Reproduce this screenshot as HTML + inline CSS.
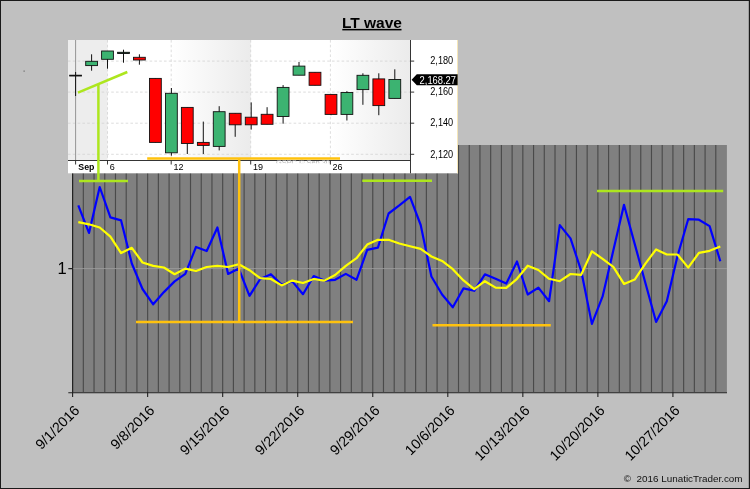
<!DOCTYPE html>
<html><head><meta charset="utf-8"><title>LT wave</title>
<style>
html,body{margin:0;padding:0;background:#C0C0C0;}
body{width:750px;height:489px;overflow:hidden;}
svg{display:block;font-family:"Liberation Sans",Arial,sans-serif;}
</style></head><body>
<svg width="750" height="489" viewBox="0 0 750 489">
<defs>
<linearGradient id="wk" x1="0" x2="1" y1="0" y2="0"><stop offset="0" stop-color="#ffffff"/><stop offset="1" stop-color="#ebebeb"/></linearGradient>
</defs>
<rect x="0" y="0" width="750" height="489" fill="#C0C0C0"/>
<path d="M0 0H750V489H0Z M1 1V487.9H748.8V1Z" fill="#1a1a1a" fill-rule="evenodd"/>
<rect x="23.6" y="70.6" width="1" height="1" fill="#444"/>
<!-- title -->
<text x="371.9" y="27.6" text-anchor="middle" font-size="15.5" font-weight="bold" fill="#000">LT wave</text>
<rect x="342.3" y="28.9" width="59.2" height="1.5" fill="#000"/>
<!-- plot -->
<rect x="72.6" y="145" width="654.3" height="247.5" fill="#808080"/>
<path d="M72.60 145V392 M83.32 145V392 M94.04 145V392 M104.76 145V392 M115.48 145V392 M126.20 145V392 M136.92 145V392 M147.64 145V392 M158.36 145V392 M169.08 145V392 M179.80 145V392 M190.52 145V392 M201.24 145V392 M211.96 145V392 M222.68 145V392 M233.40 145V392 M244.12 145V392 M254.84 145V392 M265.56 145V392 M276.28 145V392 M287.00 145V392 M297.72 145V392 M308.44 145V392 M319.16 145V392 M329.88 145V392 M340.60 145V392 M351.32 145V392 M362.04 145V392 M372.76 145V392 M383.48 145V392 M394.20 145V392 M404.92 145V392 M415.64 145V392 M426.36 145V392 M437.08 145V392 M447.80 145V392 M458.52 145V392 M469.24 145V392 M479.96 145V392 M490.68 145V392 M501.40 145V392 M512.12 145V392 M522.84 145V392 M533.56 145V392 M544.28 145V392 M555.00 145V392 M565.72 145V392 M576.44 145V392 M587.16 145V392 M597.88 145V392 M608.60 145V392 M619.32 145V392 M630.04 145V392 M640.76 145V392 M651.48 145V392 M662.20 145V392 M672.92 145V392 M683.64 145V392 M694.36 145V392 M705.08 145V392 M715.80 145V392" stroke="#4a4a4a" stroke-width="1.15" fill="none"/>
<path d="M72.6 268.6H727" stroke="#9c9c9c" stroke-width="0.9" fill="none"/>
<path d="M72.6 145V397 M68.3 392.7H727 M68.3 268.6H72.6 M72.60 392V397 M147.64 392V397 M222.68 392V397 M297.72 392V397 M372.76 392V397 M447.80 392V397 M522.84 392V397 M597.88 392V397 M672.92 392V397" stroke="#222" stroke-width="1.1" fill="none"/>
<text x="66.6" y="274.2" text-anchor="end" font-size="16.5" fill="#000">1</text>
<text transform="translate(80.3,411.3) rotate(-45)" text-anchor="end" font-size="14.2">9/1/2016</text>
<text transform="translate(155.3,411.3) rotate(-45)" text-anchor="end" font-size="14.2">9/8/2016</text>
<text transform="translate(230.4,411.3) rotate(-45)" text-anchor="end" font-size="14.2">9/15/2016</text>
<text transform="translate(305.4,411.3) rotate(-45)" text-anchor="end" font-size="14.2">9/22/2016</text>
<text transform="translate(380.5,411.3) rotate(-45)" text-anchor="end" font-size="14.2">9/29/2016</text>
<text transform="translate(455.5,411.3) rotate(-45)" text-anchor="end" font-size="14.2">10/6/2016</text>
<text transform="translate(530.5,411.3) rotate(-45)" text-anchor="end" font-size="14.2">10/13/2016</text>
<text transform="translate(605.6,411.3) rotate(-45)" text-anchor="end" font-size="14.2">10/20/2016</text>
<text transform="translate(680.6,411.3) rotate(-45)" text-anchor="end" font-size="14.2">10/27/2016</text>
<!-- series -->
<polyline points="78.3,205.4 89.0,232.9 99.7,187.0 110.4,217.4 121.1,220.4 131.8,263.5 142.5,289.0 153.2,304.3 163.9,292.1 174.6,281.4 185.3,273.9 196.0,247.0 206.7,251.0 217.4,227.5 228.1,273.9 238.8,268.6 249.5,295.8 260.2,279.0 270.9,274.2 281.6,284.6 292.3,281.4 303.0,294.2 313.7,276.1 324.4,280.6 335.1,279.8 345.8,273.9 356.5,279.8 367.2,249.9 377.9,247.7 388.6,213.5 399.3,205.4 410.0,196.9 420.7,225.0 431.4,276.5 442.1,294.5 452.8,307.3 463.5,288.4 474.2,290.8 484.9,274.3 495.6,278.8 506.3,283.6 517.0,261.5 527.7,294.5 538.4,287.6 549.1,301.2 559.8,225.1 570.5,238.4 581.2,270.8 591.9,323.9 602.6,296.4 613.3,250.6 624.0,204.8 634.7,243.9 645.4,283.0 656.1,322.0 666.8,301.2 677.5,256.0 688.2,219.2 698.9,219.7 709.6,226.1 720.3,261.2" fill="none" stroke="#0000FF" stroke-width="2.2" stroke-linejoin="round"/>
<polyline points="78.3,222.2 89.0,224.3 99.7,227.5 110.4,236.6 121.1,253.1 131.8,247.8 142.5,262.5 153.2,265.9 163.9,267.5 174.6,274.2 185.3,268.6 196.0,271.0 206.7,267.0 217.4,265.8 228.1,267.0 238.8,264.2 249.5,270.2 260.2,278.2 270.9,279.0 281.6,285.4 292.3,280.6 303.0,283.0 313.7,279.0 324.4,280.6 335.1,275.0 345.8,265.9 356.5,258.2 367.2,244.6 377.9,239.8 388.6,239.8 399.3,243.5 410.0,246.2 420.7,248.9 431.4,256.5 442.1,260.9 452.8,269.2 463.5,280.4 474.2,289.2 484.9,281.2 495.6,287.6 506.3,287.9 517.0,278.8 527.7,265.7 538.4,270.0 549.1,278.8 559.8,281.2 570.5,274.0 581.2,274.8 591.9,251.3 602.6,258.8 613.3,266.8 624.0,283.9 634.7,279.6 645.4,263.6 656.1,249.4 666.8,254.5 677.5,254.5 688.2,267.6 698.9,252.9 709.6,250.8 720.3,246.4" fill="none" stroke="#FFFF00" stroke-width="2.2" stroke-linejoin="round"/>
<!-- inset -->
<rect x="68" y="40" width="390" height="133.3" fill="#ffffff"/>
<rect x="68" y="40" width="39.5" height="120.5" fill="#ededed"/>
<rect x="171.2" y="40" width="79.5" height="120.5" fill="url(#wk)"/>
<rect x="330.4" y="40" width="80.1" height="120.5" fill="url(#wk)"/>
<rect x="457" y="40" width="1" height="133.3" fill="#f5e6b8"/>
<path d="M68 61.1H410 M68 92.1H410 M68 123.2H410 M68 154.3H410 M107.5 40V160 M171.2 40V160 M250.7 40V160 M330.4 40V160" stroke="#d2d2d2" stroke-width="0.75" stroke-dasharray="2.6 2.2" fill="none"/>
<path d="M75.6 40V160.5" stroke="#8a8a8a" stroke-width="0.9"/>
<path d="M68 160.5H410.5 M410.5 40V173.3 M410.5 61.1H414.2 M410.5 92.1H414.2 M410.5 123.2H414.2 M410.5 154.3H414.2 M75.6 160.5V164.5 M107.5 160.5V164.5 M171.2 160.5V164.5 M250.7 160.5V164.5 M330.4 160.5V164.5" stroke="#2a2a2a" stroke-width="0.95" fill="none"/>
<line x1="75.6" y1="72" x2="75.6" y2="96" stroke="#111" stroke-width="1"/>
<rect x="69.7" y="75.2" width="11.8" height="0.8" fill="#000" stroke="#111" stroke-width="0.9"/>
<line x1="91.6" y1="54.3" x2="91.6" y2="70.7" stroke="#111" stroke-width="1"/>
<rect x="85.7" y="61.3" width="11.8" height="4.3" fill="#3CB371" stroke="#111" stroke-width="0.9"/>
<line x1="107.5" y1="51" x2="107.5" y2="68.7" stroke="#111" stroke-width="1"/>
<rect x="101.6" y="51" width="11.8" height="8.3" fill="#3CB371" stroke="#111" stroke-width="0.9"/>
<line x1="123.5" y1="49.7" x2="123.5" y2="62.7" stroke="#111" stroke-width="1"/>
<rect x="117.6" y="52.3" width="11.8" height="1.2" fill="#0a5a2a" stroke="#111" stroke-width="0.9"/>
<line x1="139.4" y1="54.3" x2="139.4" y2="64.7" stroke="#111" stroke-width="1"/>
<rect x="133.5" y="57.3" width="11.8" height="2.7" fill="#FF0000" stroke="#111" stroke-width="0.9"/>
<line x1="155.4" y1="78.4" x2="155.4" y2="142.4" stroke="#111" stroke-width="1"/>
<rect x="149.5" y="78.4" width="11.8" height="64.0" fill="#FF0000" stroke="#111" stroke-width="0.9"/>
<line x1="171.4" y1="88" x2="171.4" y2="155.7" stroke="#111" stroke-width="1"/>
<rect x="165.5" y="93.3" width="11.8" height="59.5" fill="#3CB371" stroke="#111" stroke-width="0.9"/>
<line x1="187.3" y1="107.4" x2="187.3" y2="154" stroke="#111" stroke-width="1"/>
<rect x="181.4" y="107.4" width="11.8" height="36.1" fill="#FF0000" stroke="#111" stroke-width="0.9"/>
<line x1="203.3" y1="121.6" x2="203.3" y2="154" stroke="#111" stroke-width="1"/>
<rect x="197.4" y="142.4" width="11.8" height="3.0" fill="#FF0000" stroke="#111" stroke-width="0.9"/>
<line x1="219.2" y1="106.2" x2="219.2" y2="150.4" stroke="#111" stroke-width="1"/>
<rect x="213.3" y="111.7" width="11.8" height="34.7" fill="#3CB371" stroke="#111" stroke-width="0.9"/>
<line x1="235.2" y1="113.3" x2="235.2" y2="136.8" stroke="#111" stroke-width="1"/>
<rect x="229.3" y="113.3" width="11.8" height="11.5" fill="#FF0000" stroke="#111" stroke-width="0.9"/>
<line x1="251.2" y1="102.4" x2="251.2" y2="129.6" stroke="#111" stroke-width="1"/>
<rect x="245.3" y="117.2" width="11.8" height="7.6" fill="#FF0000" stroke="#111" stroke-width="0.9"/>
<line x1="267.1" y1="107.2" x2="267.1" y2="124.3" stroke="#111" stroke-width="1"/>
<rect x="261.2" y="114.3" width="11.8" height="10.0" fill="#FF0000" stroke="#111" stroke-width="0.9"/>
<line x1="283.1" y1="85.1" x2="283.1" y2="123.7" stroke="#111" stroke-width="1"/>
<rect x="277.2" y="87.4" width="11.8" height="29.1" fill="#3CB371" stroke="#111" stroke-width="0.9"/>
<line x1="299.0" y1="62" x2="299.0" y2="75.2" stroke="#111" stroke-width="1"/>
<rect x="293.1" y="66.1" width="11.8" height="9.1" fill="#3CB371" stroke="#111" stroke-width="0.9"/>
<line x1="315.0" y1="72.3" x2="315.0" y2="85.3" stroke="#111" stroke-width="1"/>
<rect x="309.1" y="72.3" width="11.8" height="13.0" fill="#FF0000" stroke="#111" stroke-width="0.9"/>
<line x1="331.0" y1="94.4" x2="331.0" y2="115.2" stroke="#111" stroke-width="1"/>
<rect x="325.1" y="94.4" width="11.8" height="20.0" fill="#FF0000" stroke="#111" stroke-width="0.9"/>
<line x1="346.9" y1="91.2" x2="346.9" y2="120.5" stroke="#111" stroke-width="1"/>
<rect x="341.0" y="92.5" width="11.8" height="21.9" fill="#3CB371" stroke="#111" stroke-width="0.9"/>
<line x1="362.9" y1="73.3" x2="362.9" y2="104.8" stroke="#111" stroke-width="1"/>
<rect x="357.0" y="75.3" width="11.8" height="14.3" fill="#3CB371" stroke="#111" stroke-width="0.9"/>
<line x1="378.8" y1="73.3" x2="378.8" y2="115.2" stroke="#111" stroke-width="1"/>
<rect x="372.9" y="78.9" width="11.8" height="26.7" fill="#FF0000" stroke="#111" stroke-width="0.9"/>
<line x1="394.8" y1="69.3" x2="394.8" y2="98.4" stroke="#111" stroke-width="1"/>
<rect x="388.9" y="79.5" width="11.8" height="18.9" fill="#3CB371" stroke="#111" stroke-width="0.9"/>
<text transform="translate(453.2,64.3) scale(0.9,1)" text-anchor="end" font-size="10.2">2,180</text>
<text transform="translate(453.2,95.3) scale(0.9,1)" text-anchor="end" font-size="10.2">2,160</text>
<text transform="translate(453.2,126.4) scale(0.9,1)" text-anchor="end" font-size="10.2">2,140</text>
<text transform="translate(453.2,157.5) scale(0.9,1)" text-anchor="end" font-size="10.2">2,120</text>
<text x="78.3" y="169.6" font-size="8.8" font-weight="bold">Sep</text>
<text x="109.7" y="169.6" font-size="9">6</text>
<text x="173.39999999999998" y="169.6" font-size="9">12</text>
<text x="252.89999999999998" y="169.6" font-size="9">19</text>
<text x="332.59999999999997" y="169.6" font-size="9">26</text>
<clipPath id="cp"><rect x="270" y="156" width="70" height="7.2"/></clipPath>
<text x="276" y="165.4" font-size="7.4" fill="#b4b4b4" clip-path="url(#cp)">GSPC © Sep 30</text>
<path d="M411.6 79.8L416.8 74.3H457.6V85.3H416.8Z" fill="#000"/>
<text transform="translate(456,83.6) scale(0.9,1)" text-anchor="end" font-size="10.4" fill="#fff">2,168.27</text>
<!-- annotations -->
<g stroke="#ADE61E" stroke-width="2.5" fill="none">
<path d="M78 92.7L127.3 72"/>
<path d="M98.4 84V181"/>
<path d="M79 181H128"/>
<path d="M362.3 180.8H432"/>
<path d="M597 191.1H723.2"/>
</g>
<g stroke="#FFC20E" stroke-width="2.5" fill="none">
<path d="M147.2 158.5H340"/>
<path d="M239.2 158.5V322"/>
<path d="M136 322H353"/>
<path d="M432.5 325.2H550.8"/>
</g>
<text x="742.6" y="482.1" text-anchor="end" font-size="9.9" fill="#111">©&#160; 2016 LunaticTrader.com</text>
</svg>
</body></html>
